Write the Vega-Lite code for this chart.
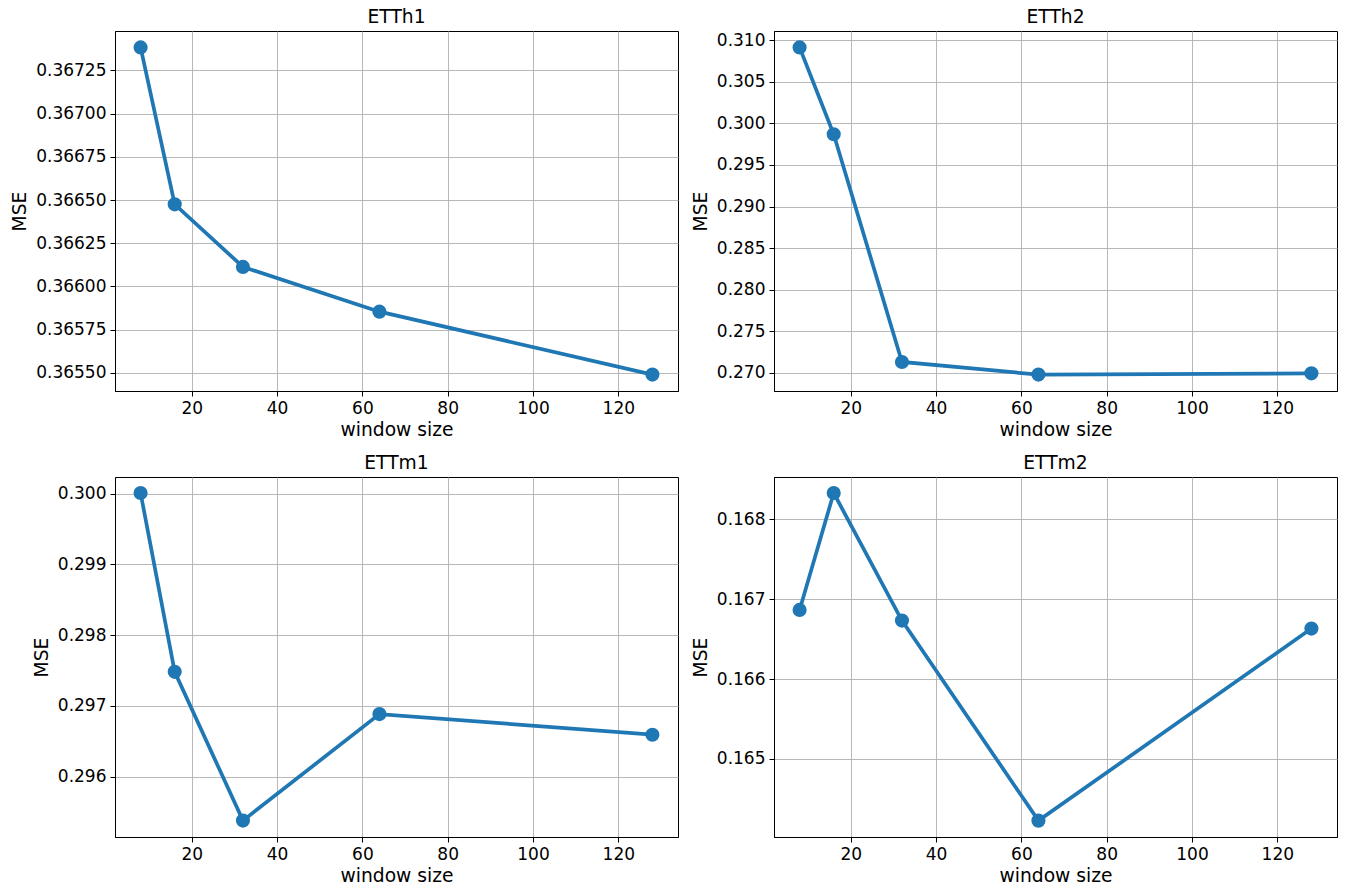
{
  "$schema": "https://vega.github.io/schema/vega-lite/v6.json",
  "padding": {"left": 10, "top": 7, "right": 5, "bottom": 5},
  "background": "white",
  "data": {"values": [
    {"dataset": "ETTh1", "window": 8, "mse": 0.367383},
    {"dataset": "ETTh1", "window": 16, "mse": 0.366475},
    {"dataset": "ETTh1", "window": 32, "mse": 0.366113},
    {"dataset": "ETTh1", "window": 64, "mse": 0.365854},
    {"dataset": "ETTh1", "window": 128, "mse": 0.36549},
    {"dataset": "ETTh2", "window": 8, "mse": 0.30912},
    {"dataset": "ETTh2", "window": 16, "mse": 0.29868},
    {"dataset": "ETTh2", "window": 32, "mse": 0.27132},
    {"dataset": "ETTh2", "window": 64, "mse": 0.2698},
    {"dataset": "ETTh2", "window": 128, "mse": 0.26995},
    {"dataset": "ETTm1", "window": 8, "mse": 0.30001},
    {"dataset": "ETTm1", "window": 16, "mse": 0.297482},
    {"dataset": "ETTm1", "window": 32, "mse": 0.295379},
    {"dataset": "ETTm1", "window": 64, "mse": 0.296885},
    {"dataset": "ETTm1", "window": 128, "mse": 0.296593},
    {"dataset": "ETTm2", "window": 8, "mse": 0.166866},
    {"dataset": "ETTm2", "window": 16, "mse": 0.16833},
    {"dataset": "ETTm2", "window": 32, "mse": 0.166732},
    {"dataset": "ETTm2", "window": 64, "mse": 0.164228},
    {"dataset": "ETTm2", "window": 128, "mse": 0.166632}
  ]},
  "columns": 2,
  "bounds": "flush",
  "spacing": {"column": 96, "row": 86},
  "concat": [
    {
      "title": "ETTh1",
      "width": 563, "height": 360,
      "transform": [{"filter": "datum.dataset === 'ETTh1'"}],
      "mark": {"type": "line", "color": "#1f77b4", "strokeWidth": 3.7, "point": {"filled": true, "size": 200, "color": "#1f77b4"}},
      "encoding": {
        "x": {"field": "window", "type": "quantitative", "title": "window size", "scale": {"domain": [2, 134], "nice": false, "zero": false}, "axis": {"values": [20, 40, 60, 80, 100, 120]}},
        "y": {"field": "mse", "type": "quantitative", "title": "MSE", "scale": {"domain": [0.365395, 0.367478], "nice": false, "zero": false}, "axis": {"values": [0.3655, 0.36575, 0.366, 0.36625, 0.3665, 0.36675, 0.367, 0.36725], "format": ".5f"}}
      }
    },
    {
      "title": "ETTh2",
      "width": 563, "height": 360,
      "transform": [{"filter": "datum.dataset === 'ETTh2'"}],
      "mark": {"type": "line", "color": "#1f77b4", "strokeWidth": 3.7, "point": {"filled": true, "size": 200, "color": "#1f77b4"}},
      "encoding": {
        "x": {"field": "window", "type": "quantitative", "title": "window size", "scale": {"domain": [2, 134], "nice": false, "zero": false}, "axis": {"values": [20, 40, 60, 80, 100, 120]}},
        "y": {"field": "mse", "type": "quantitative", "title": "MSE", "scale": {"domain": [0.26783, 0.31109], "nice": false, "zero": false}, "axis": {"values": [0.27, 0.275, 0.28, 0.285, 0.29, 0.295, 0.3, 0.305, 0.31], "format": ".3f"}}
      }
    },
    {
      "title": "ETTm1",
      "width": 563, "height": 360,
      "transform": [{"filter": "datum.dataset === 'ETTm1'"}],
      "mark": {"type": "line", "color": "#1f77b4", "strokeWidth": 3.7, "point": {"filled": true, "size": 200, "color": "#1f77b4"}},
      "encoding": {
        "x": {"field": "window", "type": "quantitative", "title": "window size", "scale": {"domain": [2, 134], "nice": false, "zero": false}, "axis": {"values": [20, 40, 60, 80, 100, 120]}},
        "y": {"field": "mse", "type": "quantitative", "title": "MSE", "scale": {"domain": [0.295147, 0.300236], "nice": false, "zero": false}, "axis": {"values": [0.296, 0.297, 0.298, 0.299, 0.3], "format": ".3f"}}
      }
    },
    {
      "title": "ETTm2",
      "width": 563, "height": 360,
      "transform": [{"filter": "datum.dataset === 'ETTm2'"}],
      "mark": {"type": "line", "color": "#1f77b4", "strokeWidth": 3.7, "point": {"filled": true, "size": 200, "color": "#1f77b4"}},
      "encoding": {
        "x": {"field": "window", "type": "quantitative", "title": "window size", "scale": {"domain": [2, 134], "nice": false, "zero": false}, "axis": {"values": [20, 40, 60, 80, 100, 120]}},
        "y": {"field": "mse", "type": "quantitative", "title": "MSE", "scale": {"domain": [0.164023, 0.168530], "nice": false, "zero": false}, "axis": {"values": [0.165, 0.166, 0.167, 0.168], "format": ".3f"}}
      }
    }
  ],
  "config": {
    "font": "DejaVu Sans",
    "view": {"stroke": "black", "strokeWidth": 1},
    "axis": {
      "labelFont": "DejaVu Sans", "labelFontSize": 17, "labelColor": "black",
      "titleFont": "DejaVu Sans", "titleFontSize": 18.7, "titleFontWeight": "normal", "titleColor": "black",
      "tickColor": "black", "tickSize": 5, "tickWidth": 1,
      "domainColor": "black", "domainWidth": 1,
      "gridColor": "#b0b0b0", "gridWidth": 1, "gridOpacity": 0.9,
      "labelPadding": 4, "titlePadding": 4, "labelFlush": false, "labelOverlap": false
    },
    "axisY": {"titlePadding": 6},
    "title": {"font": "DejaVu Sans", "fontSize": 18.7, "fontWeight": "normal", "color": "black", "anchor": "middle", "offset": 4}
  }
}
